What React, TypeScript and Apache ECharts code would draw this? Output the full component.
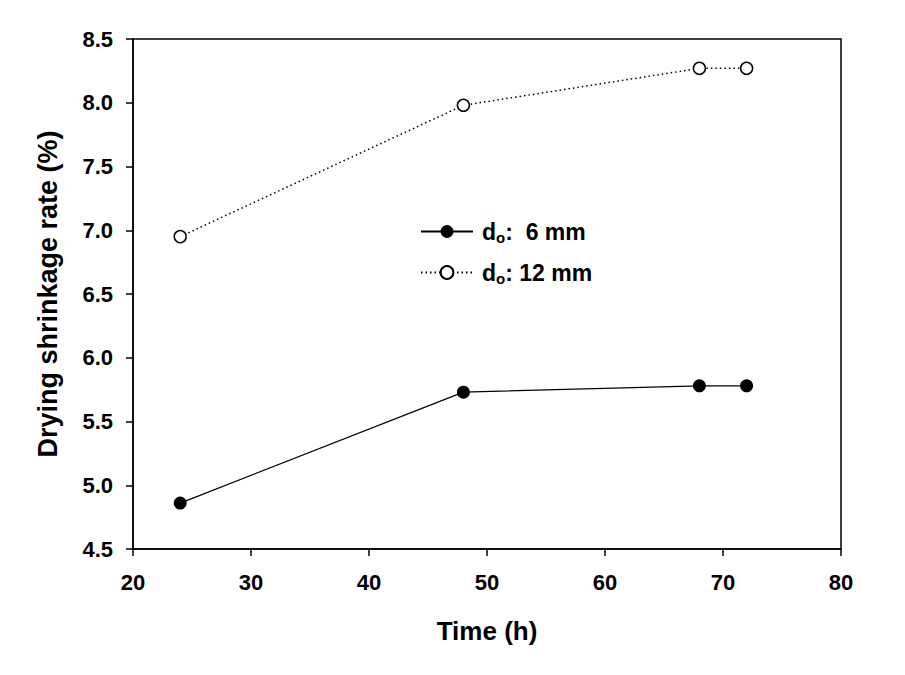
import React, { useEffect, useRef } from "react";
import * as echarts from "echarts";

const times = [24, 48, 68, 72];
const d6 = [4.86, 5.73, 5.78, 5.78];
const d12 = [6.95, 7.98, 8.27, 8.27];
const legendNames = ["d6", "d12"];

const FONT = "Liberation Sans, Arial, sans-serif";

export default function App() {
  const ref = useRef<HTMLDivElement>(null);
  useEffect(() => {
    const chart = echarts.init(ref.current!, null, { renderer: "svg" });
    chart.setOption({
      animation: false,
      backgroundColor: "#fff",
      grid: { left: 133, right: 64, top: 39, bottom: 126, show: true, borderColor: "#000", borderWidth: 1.5, backgroundColor: "transparent" },
      legend: {
        orient: "vertical",
        left: 420,
        top: 218,
        padding: 0,
        itemWidth: 52,
        itemHeight: 16,
        itemGap: 14,
        data: legendNames,
        formatter: (name: string) =>
          name === "d6" ? "{n|d}{s|o}{n|:  6 mm}" : "{n|d}{s|o}{n|: 12 mm}",
        textStyle: {
          fontFamily: FONT,
          padding: [0, 0, 0, 4],
          rich: {
            n: { fontSize: 23, fontWeight: "bold", color: "#000", fontFamily: FONT, lineHeight: 26 },
            s: { fontSize: 15, fontWeight: "bold", color: "#000", fontFamily: FONT, padding: [12, 0, 0, 0], lineHeight: 26 },
          },
        },
      },
      xAxis: {
        type: "value",
        min: 20,
        max: 80,
        interval: 10,
        name: "Time (h)",
        nameLocation: "middle",
        nameGap: 69,
        nameTextStyle: { fontFamily: FONT, fontSize: 26, fontWeight: "bold", color: "#000" },
        axisLine: { show: true, lineStyle: { color: "#000", width: 1.5 } },
        axisTick: { show: true, length: 7, lineStyle: { color: "#000", width: 1.5 } },
        axisLabel: { fontFamily: FONT, fontSize: 22, fontWeight: "bold", color: "#000", margin: 22 },
        splitLine: { show: false },
      },
      yAxis: {
        type: "value",
        min: 4.5,
        max: 8.5,
        interval: 0.5,
        name: "Drying shrinkage rate (%)",
        nameLocation: "middle",
        nameGap: 72,
        nameTextStyle: { fontFamily: FONT, fontSize: 27, fontWeight: "bold", color: "#000" },
        axisLine: { show: true, lineStyle: { color: "#000", width: 1.5 } },
        axisTick: { show: true, length: 7, lineStyle: { color: "#000", width: 1.5 } },
        axisLabel: {
          fontFamily: FONT,
          fontSize: 22,
          fontWeight: "bold",
          color: "#000",
          margin: 20,
          formatter: (v: number) => v.toFixed(1),
        },
        splitLine: { show: false },
      },
      series: [
        {
          name: "d6",
          type: "line",
          data: times.map((t, i) => [t, d6[i]]),
          symbol: "circle",
          symbolSize: 13,
          itemStyle: { color: "#000" },
          lineStyle: { color: "#000", width: 1.2 },
        },
        {
          name: "d12",
          type: "line",
          data: times.map((t, i) => [t, d12[i]]),
          symbol: "circle",
          symbolSize: 12,
          itemStyle: { color: "#fff", borderColor: "#000", borderWidth: 1.5 },
          lineStyle: { color: "#000", width: 1.5, type: [1.5, 3] },
        },
      ],
    });
    return () => chart.dispose();
  }, []);
  return <div ref={ref} style={{ position: "absolute", left: 0, top: 0, width: 905, height: 675 }} />;
}
